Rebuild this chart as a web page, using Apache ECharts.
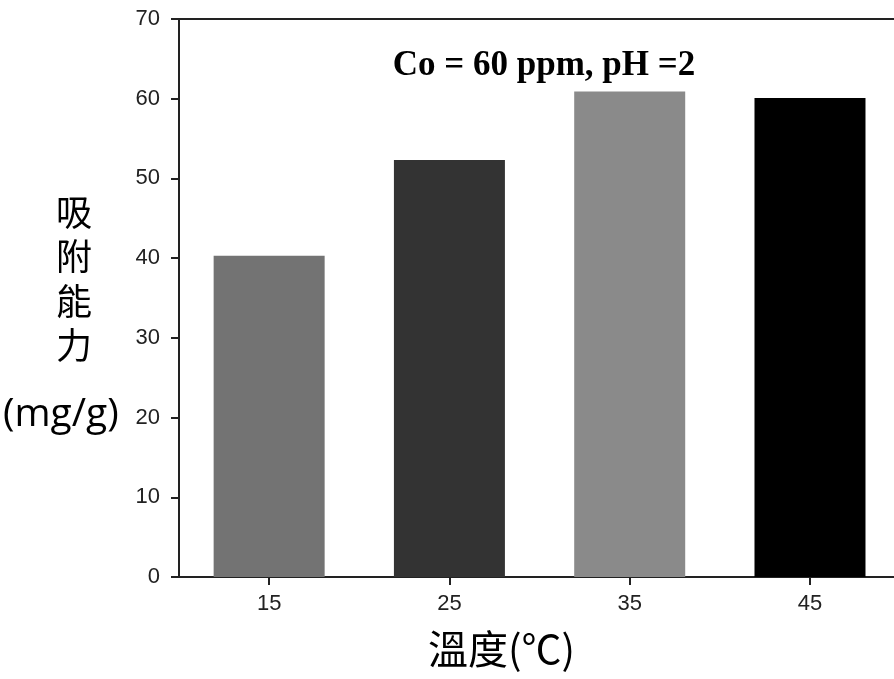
<!DOCTYPE html>
<html>
<head>
<meta charset="utf-8">
<script src="https://cdn.jsdelivr.net/npm/echarts@6/dist/echarts.min.js"></script>
<style>
  html, body { margin: 0; padding: 0; background: #fff; }
  #chart { width: 894px; height: 679px; }
</style>
</head>
<body>
<div id="chart"></div>
<script>
// Adsorption capacity versus temperature
const temperatures = [15, 25, 35, 45];
const capacity = [40.3, 52.3, 60.9, 60.1];
const barColors = ['#737373', '#333333', '#8a8a8a', '#000000'];
const yTicks = [0, 10, 20, 30, 40, 50, 60, 70];

const tickFont = '"Liberation Sans", Arial, sans-serif';
const cjkFont = '"Noto Sans CJK TC", "Noto Sans CJK SC", "Noto Sans", sans-serif';

const chart = echarts.init(document.getElementById('chart'));
chart.setOption({
  animation: false,
  backgroundColor: '#ffffff',
  title: {
    text: 'Co = 60 ppm, pH =2',
    left: 539,
    top: 43,
    textAlign: 'center',
    textStyle: {
      fontFamily: '"Liberation Serif", "Times New Roman", serif',
      fontWeight: 'bold',
      fontSize: 35,
      color: '#000'
    }
  },
  grid: { left: 179, top: 19, right: 0, height: 558 },
  xAxis: {
    type: 'value',
    min: 10,
    max: 49.66,
    axisLine: { show: true, lineStyle: { color: '#222', width: 2 } },
    axisTick: { show: true, customValues: temperatures, length: 8, lineStyle: { color: '#222', width: 2 } },
    axisLabel: { customValues: temperatures, margin: 16, fontFamily: tickFont, fontSize: 22, color: '#222' },
    splitLine: { show: false }
  },
  yAxis: {
    type: 'value',
    min: yTicks[0],
    max: yTicks[yTicks.length - 1],
    interval: 10,
    axisLine: { show: true, lineStyle: { color: '#222', width: 2 } },
    axisTick: { show: true, length: 8, lineStyle: { color: '#222', width: 2 } },
    axisLabel: { margin: 19, fontFamily: tickFont, fontSize: 22, color: '#222' },
    splitLine: { show: false }
  },
  series: [{
    type: 'bar',
    barWidth: 111,
    data: capacity.map((v, i) => ({ value: [temperatures[i], v], itemStyle: { color: barColors[i] } })),
    itemStyle: { borderWidth: 0 }
  }],
  graphic: [
    // frame line along the top of the plot
    {
      type: 'line',
      shape: { x1: 171, y1: 19, x2: 894, y2: 19 },
      style: { stroke: '#222', lineWidth: 2 }
    },
    {
      type: 'text',
      left: 56, top: 190,
      style: {
        text: '吸\n附\n能\n力',
        font: '36px ' + cjkFont,
        lineHeight: 44.5,
        fill: '#000',
        align: 'left'
      }
    },
    {
      type: 'text',
      left: 3, top: 395,
      style: {
        text: '(mg/g)',
        font: '39px "Open Sans", "Noto Sans", sans-serif',
        fill: '#000'
      }
    },
    {
      type: 'text',
      left: 428, top: 629,
      style: {
        text: '溫度(℃)',
        font: '40px ' + cjkFont,
        fill: '#000'
      }
    }
  ]
});
</script>
</body>
</html>
